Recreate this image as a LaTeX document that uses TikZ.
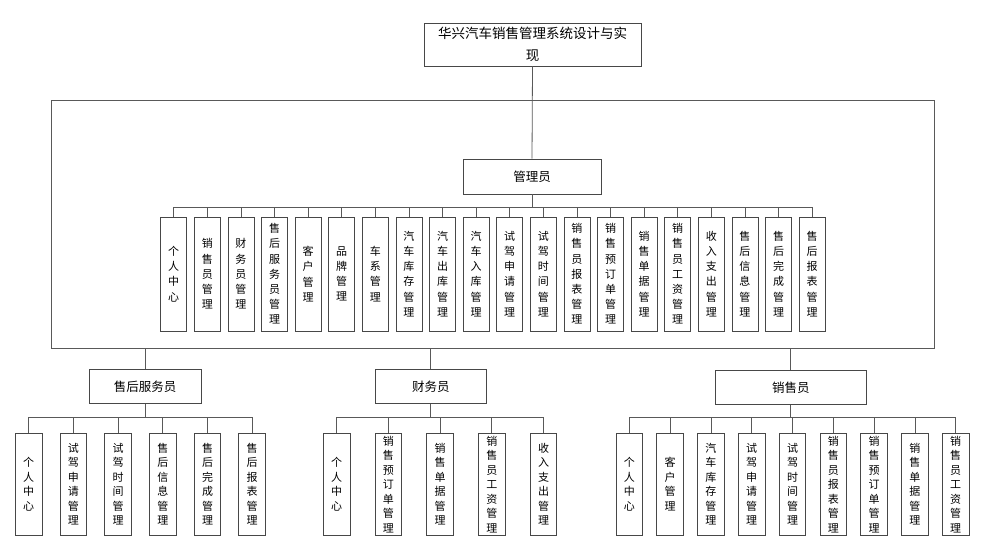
\documentclass[tikz,border=0pt]{standalone}
\usepackage{fontspec}
\newfontfamily\cjk{Noto Sans CJK SC}
\tikzset{
  box/.style={draw=black!72, line width=0.8pt, fill=white, inner sep=0pt, align=center},
  rolebox/.style={box, font=\cjk\fontsize{12.5}{15}\selectfont},
  vbox/.style={box, minimum width=26pt, minimum height=114pt, font=\cjk\fontsize{11}{15.2}\selectfont},
  vboxb/.style={box, minimum width=26.7pt, minimum height=101.3pt, font=\cjk\fontsize{11}{14.5}\selectfont},
  link/.style={draw=black!65, line width=0.8pt}
}
\begin{document}
\begin{tikzpicture}[x=1pt,y=-1pt]
\useasboundingbox (0,0) rectangle (981,539);
% title
\node[box, minimum width=217pt, minimum height=43pt, font=\cjk\fontsize{13.5}{22}\selectfont] (title) at (532.5,44.5) {华兴汽车销售管理系统设计与实\\现};
% admin frame
\node[draw=black!65, line width=0.8pt, inner sep=0pt, minimum width=883pt, minimum height=248pt] (frame) at (492.5,224) {};
% admin
\node[rolebox, minimum width=138pt, minimum height=35pt] (mgr) at (532,176.5) {管理员};
\draw[link] (title.south) -- (mgr.north);
\draw[link] (mgr.south) -- ++(0,12.5) coordinate (mb);
\foreach \t [count=\i from 0] in {
  {个\\人\\中\\心},{销\\售\\员\\管\\理},{财\\务\\员\\管\\理},{售\\后\\服\\务\\员\\管\\理},
  {客\\户\\管\\理},{品\\牌\\管\\理},{车\\系\\管\\理},{汽\\车\\库\\存\\管\\理},
  {汽\\车\\出\\库\\管\\理},{汽\\车\\入\\库\\管\\理},{试\\驾\\申\\请\\管\\理},{试\\驾\\时\\间\\管\\理},
  {销\\售\\员\\报\\表\\管\\理},{销\\售\\预\\订\\单\\管\\理},{销\\售\\单\\据\\管\\理},{销\\售\\员\\工\\资\\管\\理},
  {收\\入\\支\\出\\管\\理},{售\\后\\信\\息\\管\\理},{售\\后\\完\\成\\管\\理},{售\\后\\报\\表\\管\\理}}{
  \node[vbox] (t\i) at ({173.7+33.6*\i},274) {\t};
  \draw[link] (mb) -| (t\i.north);
}
% roles
\node[rolebox, minimum width=111.7pt, minimum height=34pt] (svc) at (145.2,386.3) {售后服务员};
\node[rolebox, minimum width=111.7pt, minimum height=34pt] (fin) at (430.8,386.3) {财务员};
\node[rolebox, minimum width=151.7pt, minimum height=33.6pt] (sal) at (790.8,387.5) {销售员};
\draw[link] (svc.north |- frame.south) -- (svc.north);
\draw[link] (fin.north |- frame.south) -- (fin.north);
\draw[link] (sal.north |- frame.south) -- (sal.north);
\draw[link] (svc.south) -- ++(0,13.4) coordinate (sb);
\draw[link] (fin.south) -- ++(0,13.4) coordinate (fb);
\draw[link] (sal.south) -- ++(0,13) coordinate (lb);
% after-sales children
\foreach \t [count=\i from 0] in {
  {个\\人\\中\\心},{试\\驾\\申\\请\\管\\理},{试\\驾\\时\\间\\管\\理},
  {售\\后\\信\\息\\管\\理},{售\\后\\完\\成\\管\\理},{售\\后\\报\\表\\管\\理}}{
  \node[vboxb] (s\i) at ({28.7+44.7*\i},484.3) {\t};
  \draw[link] (sb) -| (s\i.north);
}
% finance children
\foreach \t [count=\i from 0] in {
  {个\\人\\中\\心},{销\\售\\预\\订\\单\\管\\理},{销\\售\\单\\据\\管\\理},
  {销\\售\\员\\工\\资\\管\\理},{收\\入\\支\\出\\管\\理}}{
  \node[vboxb] (f\i) at ({336.7+51.7*\i},484.3) {\t};
  \draw[link] (fb) -| (f\i.north);
}
% sales children
\foreach \t [count=\i from 0] in {
  {个\\人\\中\\心},{客\\户\\管\\理},{汽\\车\\库\\存\\管\\理},{试\\驾\\申\\请\\管\\理},
  {试\\驾\\时\\间\\管\\理},{销\\售\\员\\报\\表\\管\\理},{销\\售\\预\\订\\单\\管\\理},
  {销\\售\\单\\据\\管\\理},{销\\售\\员\\工\\资\\管\\理}}{
  \node[vboxb] (l\i) at ({629.3+40.8*\i},484.3) {\t};
  \draw[link] (lb) -| (l\i.north);
}
\end{tikzpicture}
\end{document}
